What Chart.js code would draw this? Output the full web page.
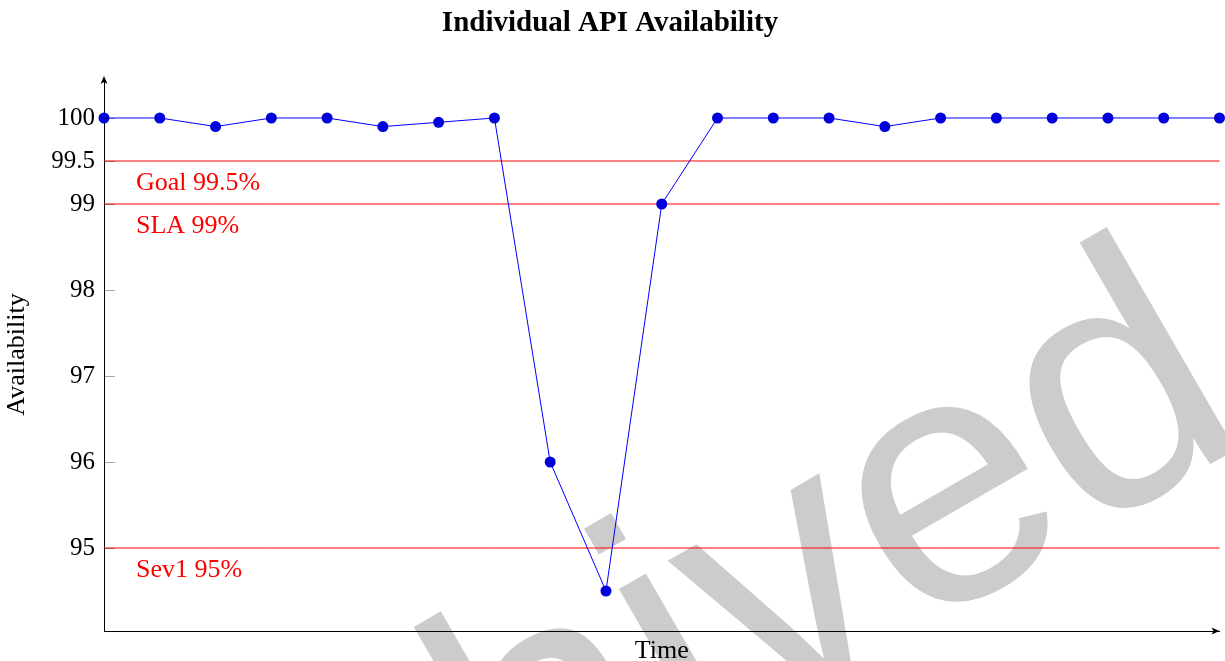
<!DOCTYPE html>
<html>
<head>
<meta charset="utf-8">
<script src="https://cdn.jsdelivr.net/npm/chart.js@4.4.1/dist/chart.umd.min.js"></script>
<style>
  html, body { margin: 0; padding: 0; background: #fff; }
  #wrap { width: 1225px; height: 661px; }
</style>
</head>
<body>
<div id="wrap"><canvas id="myChart"></canvas></div>
<script>
(function () {
  'use strict';

  // values
  var timeLabels = ['1', '2', '3', '4', '5', '6', '7', '8', '9', '10', '11',
                    '12', '13', '14', '15', '16', '17', '18', '19', '20', '21'];
  var availability = [100, 100, 99.9, 100, 100, 99.9, 99.95, 100, 96, 94.5, 99,
                      100, 100, 100, 99.9, 100, 100, 100, 100, 100, 100];
  var yTicks = [95, 96, 97, 98, 99, 99.5, 100];
  var thresholdValues = [99.5, 99, 95];
  var thresholdLabels = ['Goal 99.5%', 'SLA 99%', 'Sev1 95%'];

  var serif = '"Liberation Serif", "Times New Roman", serif';

  var datasets = [{
    label: 'Availability',
    data: availability,
    borderColor: '#0000ff',
    borderWidth: 1,
    backgroundColor: '#0000dd',
    pointBackgroundColor: '#0000dd',
    pointBorderWidth: 0,
    pointRadius: 5.5,
    tension: 0,
    clip: false,
    order: 0
  }];
  thresholdValues.forEach(function (v, i) {
    datasets.push({
      label: thresholdLabels[i],
      data: timeLabels.map(function () { return v; }),
      borderColor: '#ff0000',
      borderWidth: 1,
      pointRadius: 0,
      clip: false,
      order: 1
    });
  });

  // grey watermark behind everything
  var watermark = {
    id: 'watermark',
    beforeDraw: function (chart) {
      var ctx = chart.ctx;
      ctx.save();
      ctx.fillStyle = '#fff';
      ctx.fillRect(0, 0, chart.width, chart.height);
      ctx.translate(658, 783);
      ctx.rotate(-Math.PI / 6);
      ctx.font = '355px "Liberation Sans", Arial, sans-serif';
      ctx.fillStyle = '#cccccc';
      ctx.textAlign = 'center';
      ctx.textBaseline = 'alphabetic';
      ctx.fillText('Archived', 0, 0);
      ctx.restore();
    }
  };

  // inner tick marks, axis arrows and threshold captions
  var decorations = {
    id: 'decorations',
    afterDraw: function (chart) {
      var ctx = chart.ctx;
      var area = chart.chartArea;
      var y = chart.scales.y;
      ctx.save();
      ctx.strokeStyle = 'rgba(0,0,0,0.35)';
      ctx.lineWidth = 1;
      yTicks.forEach(function (v) {
        var py = Math.round(y.getPixelForValue(v)) + 0.5;
        ctx.beginPath();
        ctx.moveTo(area.left, py);
        ctx.lineTo(area.left + 11, py);
        ctx.stroke();
      });

      ctx.fillStyle = '#ff0000';
      ctx.font = '26px ' + serif;
      ctx.textAlign = 'left';
      ctx.textBaseline = 'middle';
      thresholdValues.forEach(function (v, i) {
        ctx.fillText(thresholdLabels[i], area.left + 32, y.getPixelForValue(v) + 22);
      });

      ctx.fillStyle = '#000';
      ctx.beginPath();
      ctx.moveTo(area.left, area.top - 2);
      ctx.lineTo(area.left - 3.5, area.top + 6);
      ctx.lineTo(area.left, area.top + 4);
      ctx.lineTo(area.left + 3.5, area.top + 6);
      ctx.closePath();
      ctx.fill();
      ctx.beginPath();
      ctx.moveTo(area.right, area.bottom);
      ctx.lineTo(area.right - 8, area.bottom - 3.5);
      ctx.lineTo(area.right - 6, area.bottom);
      ctx.lineTo(area.right - 8, area.bottom + 3.5);
      ctx.closePath();
      ctx.fill();
      ctx.restore();
    }
  };

  var ctx = document.getElementById('myChart').getContext('2d');
  var myChart = new Chart(ctx, {
    type: 'line',
    data: { labels: timeLabels, datasets: datasets },
    plugins: [watermark, decorations],
    options: {
      responsive: true,
      maintainAspectRatio: false,
      animation: false,
      layout: { padding: { left: 0, right: 5, top: 0, bottom: 0 } },
      plugins: {
        legend: { display: false },
        tooltip: { enabled: false },
        title: {
          display: true,
          text: 'Individual API Availability',
          color: '#000',
          font: { family: serif, size: 29, weight: 'bold', lineHeight: 1.2 },
          padding: { top: 6.3, bottom: 36.9 }
        }
      },
      scales: {
        x: {
          grid: { display: false, drawTicks: false },
          border: { display: true, color: '#000', width: 1 },
          ticks: { display: false },
          title: {
            display: true,
            text: 'Time',
            color: '#000',
            font: { family: serif, size: 26, lineHeight: 1 },
            padding: { top: 0, bottom: -3 }
          },
          afterFit: function (s) { s.height = 30; }
        },
        y: {
          min: 94.035,
          max: 100.465,
          grid: { display: false, drawTicks: false },
          border: { display: true, color: '#000', width: 1 },
          afterBuildTicks: function (s) {
            s.ticks = yTicks.map(function (v) { return { value: v }; });
          },
          ticks: {
            color: '#000',
            padding: 9,
            autoSkip: false,
            font: { family: serif, size: 25 },
            callback: function (v) { return String(v); }
          },
          title: {
            display: true,
            text: 'Availability',
            color: '#000',
            font: { family: serif, size: 26, lineHeight: 1.2 },
            padding: { top: 2, bottom: 0 }
          },
          afterFit: function (s) { s.width = 104; }
        }
      }
    }
  });
})();
</script>
</body>
</html>
